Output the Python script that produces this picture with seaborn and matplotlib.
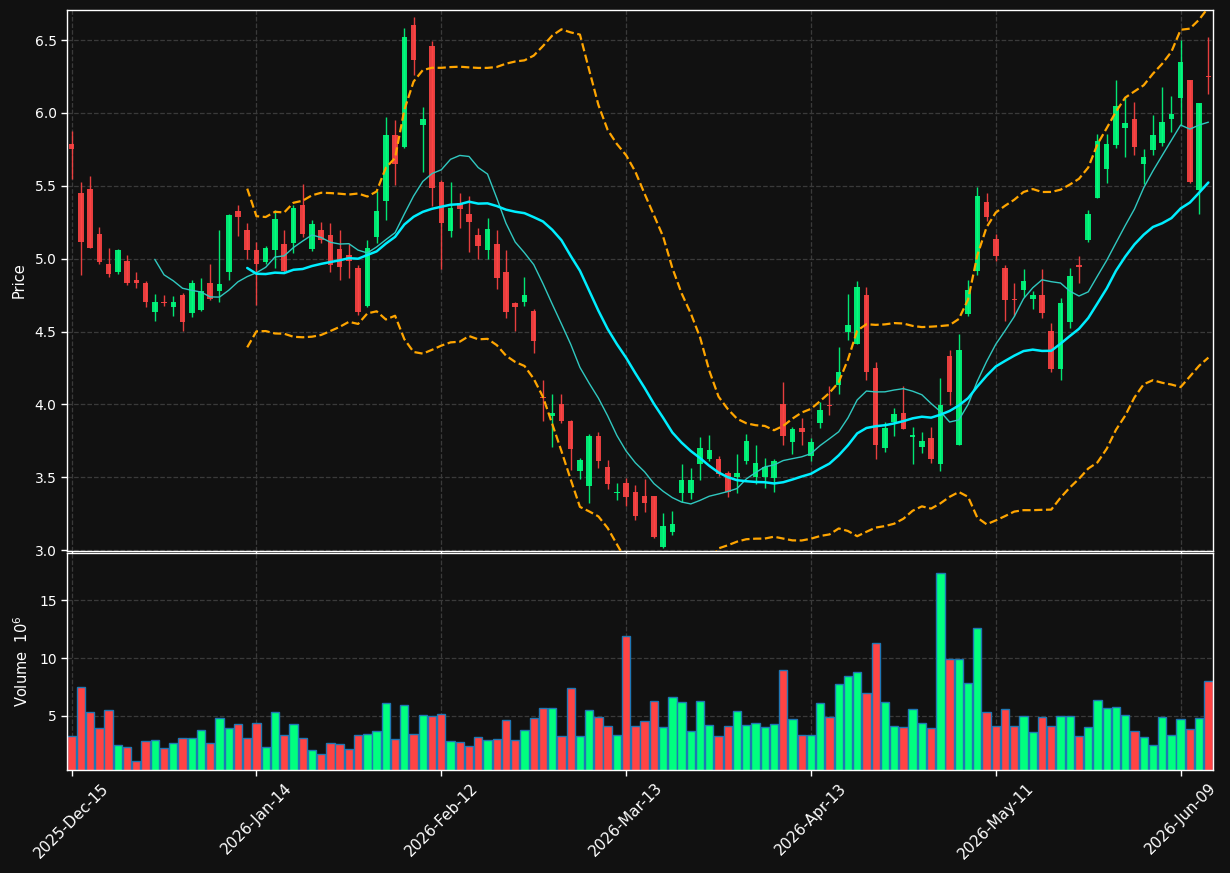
import numpy as np
import pandas as pd
import seaborn as sns
import matplotlib
matplotlib.use('Agg')
import matplotlib.pyplot as plt

# ---- data (price in $, volume in millions) ----
opens = [5.788, 5.452, 5.481, 5.171, 4.967, 4.910, 4.981, 4.852, 4.831, 4.633,
         4.699, 4.669, 4.748, 4.626, 4.648, 4.831, 4.781, 4.907, 5.324, 5.200,
         5.062, 4.976, 5.060, 5.098, 5.107, 5.371, 5.069, 5.200, 5.160, 5.069,
         5.026, 4.938, 4.674, 5.148, 5.393, 5.850, 5.764, 6.605, 5.914, 6.460,
         5.529, 5.188, 5.379, 5.307, 5.160, 5.062, 5.098, 4.912, 4.693, 4.700,
         4.638, 4.048, 3.924, 4.005, 3.890, 3.545, 3.443, 3.783, 3.569, 3.395,
         3.462, 3.398, 3.371, 3.371, 3.021, 3.124, 3.390, 3.390, 3.593, 3.624,
         3.629, 3.533, 3.502, 3.610, 3.502, 3.502, 3.498, 4.000, 3.743, 3.836,
         3.648, 3.871, 3.998, 4.133, 4.498, 4.414, 4.748, 4.248, 3.700, 3.879,
         3.943, 3.779, 3.705, 3.767, 3.593, 4.331, 3.719, 4.624, 4.914, 5.390,
         5.136, 4.938, 4.724, 4.783, 4.724, 4.748, 4.505, 4.243, 4.564, 4.957,
         5.129, 5.414, 5.612, 5.783, 5.895, 5.957, 5.652, 5.743, 5.795, 5.955,
         6.105, 6.224, 5.474, 6.252]
highs = [5.879, 5.526, 5.567, 5.219, 5.074, 5.070, 5.026, 4.910, 4.848, 4.760,
         4.752, 4.743, 4.767, 4.857, 4.869, 4.964, 5.198, 5.310, 5.371, 5.248,
         5.117, 5.088, 5.331, 5.198, 5.367, 5.512, 5.264, 5.255, 5.248, 5.198,
         5.098, 4.955, 5.129, 5.462, 5.974, 5.952, 6.581, 6.657, 6.040, 6.490,
         5.538, 5.526, 5.452, 5.431, 5.212, 5.279, 5.198, 5.062, 4.700, 4.876,
         4.652, 4.171, 4.074, 4.074, 3.895, 3.636, 3.795, 3.814, 3.621, 3.462,
         3.493, 3.450, 3.486, 3.375, 3.255, 3.271, 3.590, 3.564, 3.779, 3.788,
         3.645, 3.545, 3.657, 3.800, 3.719, 3.636, 3.629, 4.157, 3.848, 3.910,
         3.771, 4.014, 4.129, 4.395, 4.760, 4.848, 4.807, 4.290, 3.879, 3.974,
         4.129, 3.848, 3.814, 3.848, 4.183, 4.376, 4.486, 4.855, 5.490, 5.450,
         5.169, 4.957, 4.836, 4.931, 4.776, 4.931, 4.557, 4.731, 4.938, 5.017,
         5.331, 5.855, 5.855, 6.224, 6.110, 6.074, 5.752, 5.986, 6.176, 6.117,
         6.498, 6.224, 6.069, 6.521]
lows = [5.545, 4.890, 5.071, 4.962, 4.874, 4.895, 4.820, 4.800, 4.671, 4.574,
        4.676, 4.605, 4.507, 4.602, 4.640, 4.718, 4.705, 4.855, 5.157, 4.998,
        4.681, 4.965, 4.938, 4.910, 5.040, 5.150, 5.055, 5.110, 4.910, 4.855,
        4.867, 4.614, 4.670, 5.105, 5.264, 5.507, 5.760, 6.260, 5.593, 5.362,
        4.926, 5.148, 5.210, 5.048, 4.998, 4.998, 4.795, 4.595, 4.507, 4.676,
        4.355, 3.890, 3.705, 3.871, 3.552, 3.486, 3.324, 3.564, 3.419, 3.348,
        3.307, 3.205, 3.264, 3.081, 3.014, 3.105, 3.331, 3.355, 3.481, 3.612,
        3.510, 3.367, 3.390, 3.590, 3.457, 3.424, 3.402, 3.724, 3.662, 3.719,
        3.610, 3.836, 3.926, 4.074, 4.443, 4.414, 4.169, 3.629, 3.676, 3.783,
        3.831, 3.593, 3.664, 3.600, 3.545, 3.998, 3.719, 4.610, 4.890, 5.260,
        4.986, 4.574, 4.605, 4.736, 4.657, 4.593, 4.224, 4.171, 4.526, 4.836,
        5.117, 5.414, 5.521, 5.760, 5.698, 5.712, 5.510, 5.712, 5.771, 5.867,
        5.914, 5.521, 5.307, 6.129]
closes = [5.755, 5.114, 5.076, 4.976, 4.895, 5.062, 4.833, 4.833, 4.705, 4.705,
          4.695, 4.705, 4.564, 4.833, 4.781, 4.724, 4.824, 5.302, 5.283, 5.062,
          4.962, 5.076, 5.269, 4.914, 5.350, 5.169, 5.240, 5.129, 4.955, 4.943,
          4.986, 4.633, 5.076, 5.326, 5.850, 5.648, 6.521, 6.360, 5.960, 5.483,
          5.243, 5.350, 5.343, 5.255, 5.086, 5.207, 4.871, 4.633, 4.669, 4.748,
          4.436, 4.043, 3.943, 3.890, 3.695, 3.617, 3.783, 3.612, 3.455, 3.400,
          3.367, 3.236, 3.324, 3.090, 3.164, 3.181, 3.481, 3.481, 3.700, 3.686,
          3.521, 3.402, 3.529, 3.748, 3.598, 3.574, 3.614, 3.783, 3.831, 3.812,
          3.740, 3.960, 3.993, 4.224, 4.548, 4.807, 4.224, 3.724, 3.836, 3.938,
          3.831, 3.788, 3.748, 3.624, 3.998, 4.086, 4.371, 4.783, 5.433, 5.283,
          5.021, 4.717, 4.717, 4.850, 4.748, 4.629, 4.243, 4.693, 4.879, 4.943,
          5.307, 5.807, 5.788, 6.050, 5.933, 5.764, 5.700, 5.850, 5.938, 5.990,
          6.350, 5.526, 6.069, 6.245]
volumes = [3.30, 7.49, 5.34, 3.99, 5.51, 2.50, 2.32, 1.12, 2.84, 2.93,
           2.27, 2.67, 3.13, 3.13, 3.79, 2.67, 4.82, 3.96, 4.31, 3.13,
           4.39, 2.32, 5.34, 3.36, 4.31, 3.13, 2.07, 1.75, 2.67, 2.58,
           2.18, 3.36, 3.45, 3.70, 6.12, 3.01, 5.95, 3.45, 5.08, 5.00,
           5.17, 2.84, 2.76, 2.41, 3.19, 2.93, 3.01, 4.65, 2.93, 3.79,
           4.82, 5.69, 5.69, 3.27, 7.41, 3.27, 5.51, 4.91, 4.13, 3.36,
           11.89, 4.13, 4.57, 6.29, 4.05, 6.63, 6.20, 3.70, 6.29, 4.22,
           3.27, 4.13, 5.43, 4.22, 4.39, 4.05, 4.31, 8.96, 4.74, 3.36,
           3.36, 6.12, 4.91, 7.76, 8.45, 8.79, 6.98, 11.29, 6.20, 4.13,
           4.05, 5.60, 4.39, 3.96, 17.33, 9.91, 9.91, 7.84, 12.58, 5.34,
           4.13, 5.60, 4.13, 5.00, 3.62, 4.91, 4.13, 5.00, 5.00, 3.27,
           4.05, 6.38, 5.69, 5.77, 5.08, 3.70, 3.19, 2.50, 4.91, 3.36,
           4.74, 3.88, 4.82, 8.02]
tick_pos = [0, 20, 40, 60, 80, 100, 120]
tick_labels = ['2025-Dec-15', '2026-Jan-14', '2026-Feb-12', '2026-Mar-13',
               '2026-Apr-13', '2026-May-11', '2026-Jun-09']

df = pd.DataFrame({'open': opens, 'high': highs, 'low': lows,
                   'close': closes, 'volume': volumes})
df['idx'] = np.arange(len(df))
df['dir'] = np.where(df['close'] >= df['open'], 'up', 'down')
df['ma10'] = df['close'].rolling(10).mean()
df['ma20'] = df['close'].rolling(20).mean()
std20 = df['close'].rolling(20).std(ddof=0)
df['bb_up'] = df['ma20'] + 2 * std20
df['bb_lo'] = df['ma20'] - 2 * std20

BG = '#111111'
UP = '#00ff7f'
DOWN = '#ff4444'
pal = {'up': UP, 'down': DOWN}

sns.set_theme(style='dark', rc={'axes.facecolor': BG, 'figure.facecolor': BG,
                                'axes.edgecolor': 'white', 'text.color': 'white',
                                'axes.labelcolor': 'white', 'xtick.color': 'white',
                                'ytick.color': 'white'})
plt.rcParams['font.family'] = ['DejaVu Sans']

W, H = 1230, 873
fig = plt.figure(figsize=(W / 100, H / 100), dpi=100, facecolor=BG)
ax = fig.add_axes([67 / W, 1 - 551 / H, (1213 - 67) / W, (551 - 10) / H])
axv = fig.add_axes([67 / W, 1 - 770 / H, (1213 - 67) / W, (770 - 553) / H], sharex=ax)

# candles
cols = df['dir'].map(pal)
ax.vlines(df['idx'], df['low'], df['high'], colors=cols, lw=1.0, alpha=0.9, zorder=2)
body = (df['close'] - df['open']).abs().clip(lower=0.006)
ax.bar(df['idx'], body, bottom=df[['open', 'close']].min(axis=1), width=0.6,
       color=cols, alpha=0.9, zorder=2, linewidth=0)

# moving averages and bands
sns.lineplot(data=df, x='idx', y='ma10', ax=ax, color='#30c8c0', lw=1.0, zorder=3)
sns.lineplot(data=df, x='idx', y='ma20', ax=ax, color='#00eeff', lw=1.8, zorder=3)
sns.lineplot(data=df, x='idx', y='bb_up', ax=ax, color='#ffa500', lw=1.6, ls='--', zorder=3)
sns.lineplot(data=df, x='idx', y='bb_lo', ax=ax, color='#ffa500', lw=1.6, ls='--', zorder=3)

# volume
sns.barplot(data=df, x='idx', y='volume', hue='dir', palette=pal, dodge=False,
            native_scale=True, width=0.9, errorbar=None, legend=False, saturation=1,
            edgecolor='#1f77b4', linewidth=1.0, ax=axv, zorder=2)

for a in (ax, axv):
    a.set_facecolor(BG)
    a.grid(True, ls='--', color='#3a3a3a', lw=0.9)
    a.set_axisbelow(True)
    for s in a.spines.values():
        s.set_color('white')
        s.set_linewidth(1.0)
    a.tick_params(colors='white', labelsize=10, length=4, width=1,
                  left=True, bottom=True)

ax.set_xlim(-0.5, len(df) - 0.5)
ax.set_ylim(2.995, 6.706)
ax.set_yticks(np.arange(3.0, 6.51, 0.5))
ax.set_ylabel('Price', fontsize=10.5, color='white', labelpad=6)
ax.set_xlabel('')
ax.tick_params(labelbottom=False)

axv.set_ylim(0.3 * df['volume'].min(), 1.1 * df['volume'].max())
axv.set_yticks([5, 10, 15])
axv.set_ylabel('Volume  $10^{6}$', fontsize=10.5, color='white', labelpad=6)
axv.set_xlabel('')
axv.set_xticks(tick_pos)
axv.set_xticklabels(tick_labels, rotation=45, ha='center', fontsize=11)
axv.set_xlim(-0.5, len(df) - 0.5)

fig.savefig('out.png', dpi=100, facecolor=BG)
